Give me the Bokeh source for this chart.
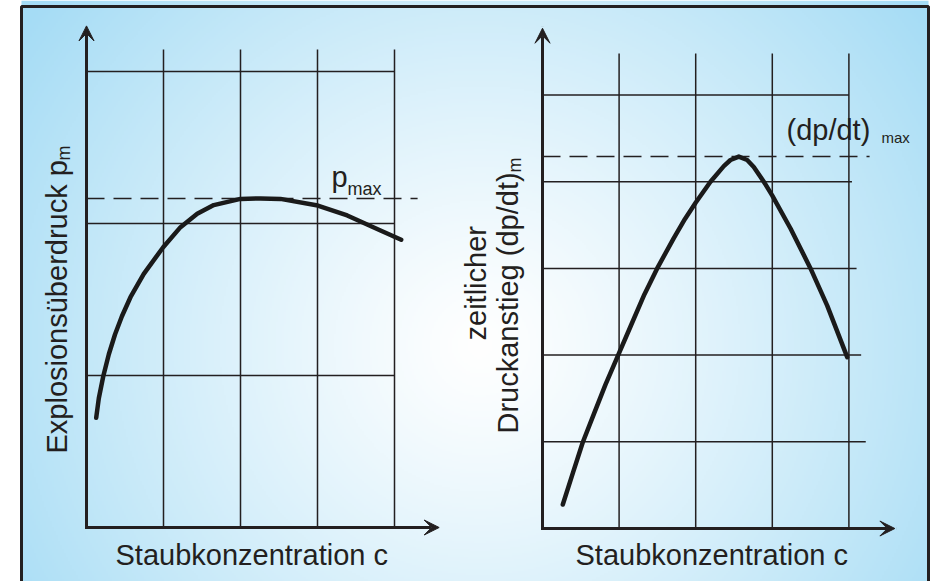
import numpy as np
from bokeh.plotting import figure
from bokeh.models import Range1d, Arrow, VeeHead
from bokeh.core.properties import value
from bokeh.embed import file_html
from bokeh.resources import INLINE

# ---------------- data ----------------
# left panel: Explosionsüberdruck p_m vs. Staubkonzentration c
conc_left = [0.126, 0.16, 0.217, 0.29, 0.37, 0.46, 0.571, 0.744, 0.996, 1.221,
             1.438, 1.653, 2.0, 2.26, 2.519, 3.004, 3.386, 3.818, 4.087]
pressure_left = [0.722, 0.85, 0.993, 1.14, 1.27, 1.39, 1.515, 1.669, 1.844, 1.976,
                 2.064, 2.121, 2.162, 2.165, 2.162, 2.118, 2.053, 1.954, 1.893]
grid_c_left = [1, 2, 3, 4]
grid_p_left = [1, 2, 3]
grid_top_left = 3.145
grid_end_left = 4.0
p_max = 2.165
p_max_end = 4.30
axis_x_end_left = 4.58
axis_y_end_left = 3.30

# right panel: zeitlicher Druckanstieg (dp/dt)_m vs. Staubkonzentration c
conc_right = [0.265, 0.40, 0.526, 0.67, 0.822, 0.988, 1.149, 1.33, 1.497, 1.714,
              1.86, 2.001, 2.193, 2.367, 2.454, 2.563, 2.672, 2.758, 2.889, 3.0,
              3.238, 3.499, 3.717, 3.978]
rate_right = [0.277, 0.65, 0.995, 1.32, 1.66, 2.0, 2.33, 2.70, 3.0, 3.35,
              3.57, 3.76, 4.0, 4.18, 4.25, 4.29, 4.25, 4.17, 4.0, 3.84,
              3.46, 3.0, 2.57, 1.976]
grid_c_right = [1, 2, 3, 4]
grid_v_right = [1, 2, 3, 4, 5]
grid_v_right_end = [4.22, 4.16, 4.10, 4.04, 4.0]
grid_top_right = 5.48
dpdt_max = 4.29
dpdt_max_end = 4.27
axis_x_end_right = 4.60
axis_y_end_right = 5.77

x_label = "Staubkonzentration c"
y_label_left = "Explosionsüberdruck p"
y_label_right_1 = "zeitlicher"
y_label_right_2 = "Druckanstieg (dp/dt)"

# ---------------- layout ----------------
W, H = 932, 581
INK = "#231f20"
FONT = value("Liberation Sans")

p = figure(width=W, height=H, x_range=Range1d(0, W), y_range=Range1d(0, H),
           min_border=0, toolbar_location=None, output_backend="svg",
           x_axis_location=None, y_axis_location=None,
           outline_line_color=None, border_fill_color="white",
           background_fill_color="white")
p.grid.visible = False

# panel coordinate systems (origin in canvas px, px per unit)
LX0, LSX, LY0, LSY = 86.0, 77.0, 54.0, 152.0
RX0, RSX, RY0, RSY = 542.0, 76.6, 53.0, 86.7
p.extra_x_ranges = {"lx": Range1d(-LX0 / LSX, (W - LX0) / LSX),
                    "rx": Range1d(-RX0 / RSX, (W - RX0) / RSX)}
p.extra_y_ranges = {"ly": Range1d(-LY0 / LSY, (H - LY0) / LSY),
                    "ry": Range1d(-RY0 / RSY, (H - RY0) / RSY)}

# ---------------- background: radial gradient ----------------
bx0, bx1, by0, by1 = 21, 928, 0, 581
step = 2
xs = bx0 + np.arange(0, bx1 - bx0, step) + step / 2
ys = by0 + np.arange(0, by1 - by0, step) + step / 2
X, Y = np.meshgrid(xs, ys)
r = np.hypot(X - 480, (H - Y) - 345)
t = np.clip(r / 560.0, 0, 1) ** 1.2
img = np.empty(X.shape, dtype=np.uint32)
view = img.view(dtype=np.uint8).reshape(X.shape + (4,))
view[..., 0] = (255 + (165 - 255) * t).astype(np.uint8)
view[..., 1] = (255 + (220 - 255) * t).astype(np.uint8)
view[..., 2] = (255 + (245 - 255) * t).astype(np.uint8)
view[..., 3] = 255
p.image_rgba(image=[img], x=bx0, y=by0, dw=bx1 - bx0, dh=by1 - by0)
p.quad(left=[bx0], right=[bx1], bottom=[-10], top=[575], fill_color=None,
       line_color=INK, line_width=3)

# ---------------- left panel ----------------
L = dict(x_range_name="lx", y_range_name="ly")
p.segment(x0=grid_c_left, y0=[0] * len(grid_c_left), x1=grid_c_left,
          y1=[grid_top_left] * len(grid_c_left), line_color=INK, line_width=1.5, **L)
p.segment(x0=[0] * len(grid_p_left), y0=grid_p_left,
          x1=[grid_end_left] * len(grid_p_left), y1=grid_p_left,
          line_color=INK, line_width=1.5, **L)
p.segment(x0=[0], y0=[p_max], x1=[p_max_end], y1=[p_max], line_color=INK,
          line_width=1.5, line_dash="18 9", **L)
p.line(conc_left, pressure_left, line_color="#1a1a1a", line_width=4.5,
       line_join="round", line_cap="round", **L)
for xe, ye in [(0, axis_y_end_left), (axis_x_end_left, 0)]:
    p.add_layout(Arrow(end=VeeHead(size=15, fill_color=INK, line_color=INK, line_width=1),
                       x_start=0, y_start=0, x_end=xe, y_end=ye,
                       line_color=INK, line_width=3, line_cap="square", **L))

# ---------------- right panel ----------------
R = dict(x_range_name="rx", y_range_name="ry")
p.segment(x0=grid_c_right, y0=[0] * len(grid_c_right), x1=grid_c_right,
          y1=[grid_top_right] * len(grid_c_right), line_color=INK, line_width=1.5, **R)
p.segment(x0=[0] * len(grid_v_right), y0=grid_v_right, x1=grid_v_right_end,
          y1=grid_v_right, line_color=INK, line_width=1.5, **R)
p.segment(x0=[0], y0=[dpdt_max], x1=[dpdt_max_end], y1=[dpdt_max],
          line_color=INK, line_width=1.5, line_dash="18 9", **R)
p.line(conc_right, rate_right, line_color="#1a1a1a", line_width=4.5,
       line_join="round", line_cap="round", **R)
for xe, ye in [(0, axis_y_end_right), (axis_x_end_right, 0)]:
    p.add_layout(Arrow(end=VeeHead(size=15, fill_color=INK, line_color=INK, line_width=1),
                       x_start=0, y_start=0, x_end=xe, y_end=ye,
                       line_color=INK, line_width=3, line_cap="square", **R))

# ---------------- texts ----------------
BASE_FIX = 0.345  # baseline correction of the svg text renderer, in em


def txt(x, y, s, size, rotated=False):
    shift = BASE_FIX * size
    if rotated:
        x, y, angle = x - shift, y, np.pi / 2
    else:
        x, y, angle = x, y + shift, 0.0
    p.text(x=[x], y=[y], text=[s], angle=angle, text_font=FONT,
           text_font_size=f"{size}px", text_color=INK, text_align="left",
           text_baseline="alphabetic")


txt(115, H - 565, x_label, 29)
txt(575, H - 565, x_label, 29)
txt(67, H - 453, y_label_left, 29, rotated=True)
txt(70, H - 160, "m", 18, rotated=True)
txt(486, H - 340, y_label_right_1, 29, rotated=True)
txt(518, H - 433, y_label_right_2, 29, rotated=True)
txt(521, H - 172, "m", 18, rotated=True)
txt(331, H - 187, "p", 29)
txt(347, H - 195, "max", 18)
txt(786, H - 139.5, "(dp/dt)", 29)
txt(881, H - 142, "max", 15)

open("out.html", "w").write(file_html(p, INLINE))
